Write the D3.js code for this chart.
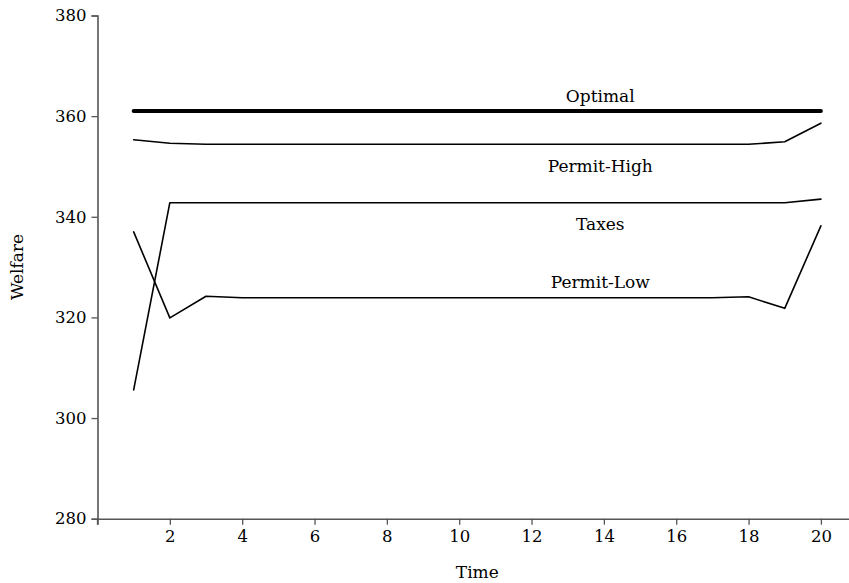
<!DOCTYPE html>
<html><head><meta charset="utf-8">
<script src="https://cdn.jsdelivr.net/npm/d3@7"></script>
<style>body{margin:0;background:#fff}svg{display:block}text{font-family:"DejaVu Serif",serif;fill:#000}</style>
</head><body><svg id="c" width="849" height="583"></svg>
<script>
const time = [1,2,3,4,5,6,7,8,9,10,11,12,13,14,15,16,17,18,19,20];
const optimal    = [361,361,361,361,361,361,361,361,361,361,361,361,361,361,361,361,361,361,361,361];
const permitHigh = [355.3,354.6,354.4,354.4,354.4,354.4,354.4,354.4,354.4,354.4,354.4,354.4,354.4,354.4,354.4,354.4,354.4,354.4,354.9,358.6];
const taxes      = [305.6,342.8,342.8,342.8,342.8,342.8,342.8,342.8,342.8,342.8,342.8,342.8,342.8,342.8,342.8,342.8,342.8,342.8,342.8,343.5];
const permitLow  = [337.0,319.9,324.2,323.9,323.9,323.9,323.9,323.9,323.9,323.9,323.9,323.9,323.9,323.9,323.9,323.9,323.9,324.1,321.8,338.2];
const xTicks = [2,4,6,8,10,12,14,16,18,20];
const yTicks = [280,300,320,340,360,380];
const seriesNames = ["Optimal","Permit-High","Taxes","Permit-Low"];
const labelPos = [[13.9,361],[13.9,354.4],[13.9,342.8],[13.9,323.9]];

const svg = d3.select("#c");
const x = d3.scaleLinear().domain([0,21]).range([97.5, 97.5+21*36.17]);
const y = d3.scaleLinear().domain([280,380]).range([518.7,15.5]);

const xa = svg.append("g").attr("transform","translate(0,518.7)")
  .call(d3.axisBottom(x).tickValues(xTicks).tickSize(6).tickPadding(6).tickFormat(d3.format("d")));
const ya = svg.append("g").attr("transform","translate(97.5,0)")
  .call(d3.axisLeft(y).tickValues(yTicks).tickSize(6).tickPadding(5).tickFormat(d3.format("d")));
[xa,ya].forEach(a=>{
  a.selectAll("path").attr("stroke","#555").attr("stroke-width",1.6);
  a.selectAll("line").attr("stroke","#555").attr("stroke-width",1.3);
  a.selectAll("text").attr("font-family","DejaVu Serif").attr("font-size",16.5).attr("fill","#000");
});
xa.append("line").attr("x1",x(0)).attr("x2",x(0)).attr("y1",0).attr("y2",6).attr("stroke","#555").attr("stroke-width",1.3);

const line = d3.line().x((d,i)=>x(time[i])).y(d=>y(d));
const data = [optimal, permitHigh, taxes, permitLow];
data.forEach((s,k)=>{
  svg.append("path").datum(s).attr("d",line).attr("fill","none")
    .attr("stroke","#000").attr("stroke-width",k===0?4:1.6)
    .attr("stroke-linejoin","round").attr("stroke-linecap","round");
});
const offs = [-9, 28, 27, -10];
seriesNames.forEach((n,k)=>{
  svg.append("text").attr("x",x(labelPos[k][0])).attr("y",y(labelPos[k][1])+offs[k])
    .attr("text-anchor","middle").attr("font-size",17).text(n);
});
svg.append("text").attr("x",x(10.5)).attr("y",578).attr("text-anchor","middle").attr("font-size",17).text("Time");
svg.append("text").attr("transform","translate(23,267) rotate(-90)").attr("text-anchor","middle").attr("font-size",17).text("Welfare");
</script></body></html>
